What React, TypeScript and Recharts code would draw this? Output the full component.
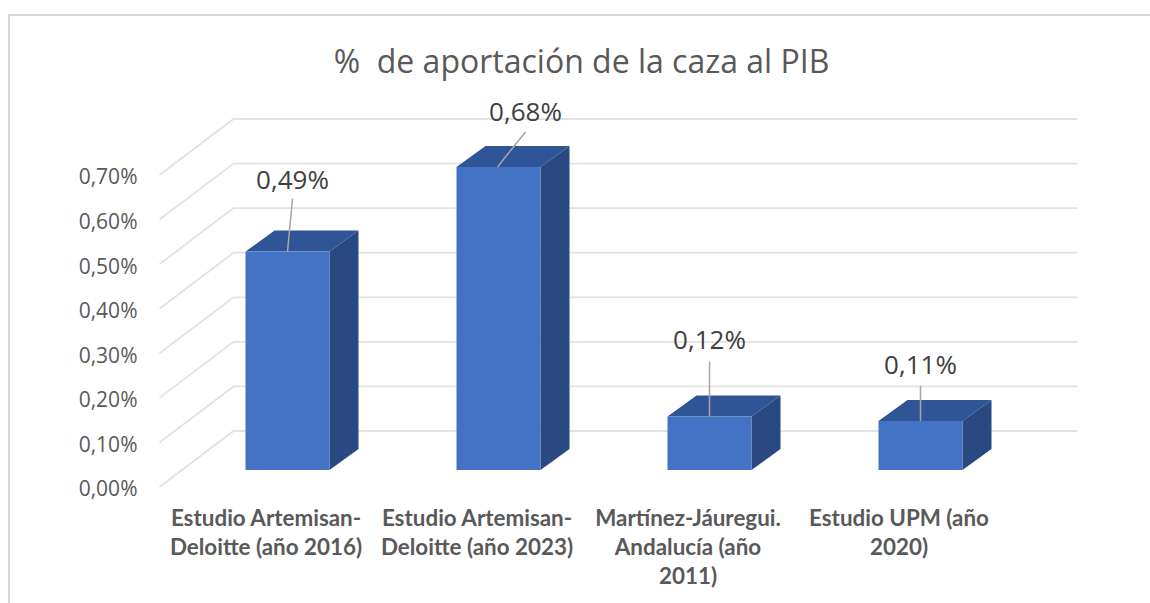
import React from "react";
import { BarChart, Bar, XAxis, YAxis, CartesianGrid, LabelList } from "recharts";

const categories = [
  "Estudio Artemisan-\nDeloitte (año 2016)",
  "Estudio Artemisan-\nDeloitte (año 2023)",
  "Martínez-Jáuregui.\nAndalucía (año\n2011)",
  "Estudio UPM (año\n2020)",
];
const values = [0.49, 0.68, 0.12, 0.11];
const valueLabels = ["0,49%", "0,68%", "0,12%", "0,11%"];
const yTicks = [0, 0.1, 0.2, 0.3, 0.4, 0.5, 0.6, 0.7];
const titleText = "%\u00a0 de aportación de la caza al PIB";

const data = categories.map((name, i) => ({ name, value: values[i], label: valueLabels[i] }));

// 3D projection
const WALL_DX = 73;
const WALL_DY = 56;
const BAR_SHIFT_X = 21;
const BAR_SHIFT_Y = -17;
const DEPTH_X = 29;
const DEPTH_Y = 21;
const LEADERS = [
  { dx: 5, dy: -53, start: 0, text: -20 },
  { dx: 28, dy: -35, start: -1, text: -21 },
  { dx: 0, dy: -55, start: 0, text: -23 },
  { dx: 0, dy: -35, start: 0, text: -22 },
];

const Bar3D = (props: any) => {
  const { x, y, width, height } = props;
  const l = x + BAR_SHIFT_X;
  const r = l + width;
  const t = y + BAR_SHIFT_Y;
  const b = t + height;
  return (
    <g>
      <polygon
        points={`${l},${t} ${l + DEPTH_X},${t - DEPTH_Y} ${r + DEPTH_X},${t - DEPTH_Y} ${r},${t}`}
        fill="#2F5597"
      />
      <polygon
        points={`${r},${t} ${r + DEPTH_X},${t - DEPTH_Y} ${r + DEPTH_X},${b - DEPTH_Y} ${r},${b}`}
        fill="#2A4980"
      />
      <rect x={l} y={t} width={width} height={height} fill="#4472C4" />
    </g>
  );
};

const ValueLabel = (props: any) => {
  const { x, y, width, value, index } = props;
  const cx = x + BAR_SHIFT_X + width / 2 + LEADERS[index].start;
  const cy = y + BAR_SHIFT_Y;
  const { dx, dy, text } = LEADERS[index];
  return (
    <g>
      <line x1={cx} y1={cy} x2={cx + dx} y2={cy + dy} stroke="#A6A6A6" strokeWidth={1.5} />
      <text
        x={cx + dx}
        y={cy + dy + text}
        textAnchor="middle"
        dominantBaseline="central"
        fontFamily="'Open Sans', sans-serif"
        fontSize={26}
        fill="#404040"
      >
        {value}
      </text>
    </g>
  );
};

const gridLine = (props: any) => {
  const { x1, x2, y1 } = props;
  return (
    <polyline
      key={`g-${y1}`}
      points={`${x1 - 1},${y1} ${x1 + WALL_DX},${y1 - WALL_DY} ${x2 + WALL_DX},${y1 - WALL_DY}`}
      fill="none"
      stroke="#E2E2E2"
      strokeWidth={1.8}
    />
  );
};

const CategoryTick = (props: any) => {
  const { x, y, payload } = props;
  const lines = String(payload.value).split("\n");
  return (
    <text
      x={x}
      y={y}
      textAnchor="middle"
      fontFamily="Lato, sans-serif"
      fontWeight={700}
      fontSize={22.4}
      fill="#595959"
    >
      {lines.map((ln, i) => (
        <tspan key={i} x={x} dy={i === 0 ? 31 : 29}>
          {ln}
        </tspan>
      ))}
    </text>
  );
};

export default function App() {
  return (
    <div style={{ position: "absolute", left: 0, top: 0, width: 1150, height: 603, background: "#fff", overflow: "hidden" }}>
      <div style={{ position: "absolute", left: 8, top: 14, width: 1142, height: 2, background: "#D9D9D9" }} />
      <div style={{ position: "absolute", left: 8, top: 14, width: 2, height: 589, background: "#D9D9D9" }} />
      <div
        style={{
          position: "absolute",
          left: 0,
          width: 1163,
          top: 38,
          textAlign: "center",
          fontFamily: "'Open Sans', sans-serif",
          fontSize: 32,
          lineHeight: "46px",
          color: "#595959",
        }}
      >
        {titleText}
      </div>
      <div style={{ position: "absolute", left: 0, top: 0 }}>
        <BarChart
          width={1150}
          height={603}
          data={data}
          margin={{ top: 175, right: 145.5, bottom: 0, left: 0 }}
          barSize={84}
        >
          <CartesianGrid vertical={false} horizontal={gridLine} />
          <XAxis dataKey="name" axisLine={false} tickLine={false} height={116} interval={0} tick={CategoryTick} />
          <YAxis
            width={160.5}
            domain={[0, 0.7]}
            ticks={yTicks}
            axisLine={false}
            tickLine={false}
            tickMargin={17}
            tickFormatter={(v: number) => v.toFixed(2).replace(".", ",") + "%"}
            tick={{ fontFamily: "'Open Sans', sans-serif", fontSize: 21, fill: "#595959", dy: 2 }}
          />
          <Bar dataKey="value" isAnimationActive={false} shape={Bar3D}>
            <LabelList dataKey="label" content={ValueLabel} />
          </Bar>
        </BarChart>
      </div>
    </div>
  );
}
